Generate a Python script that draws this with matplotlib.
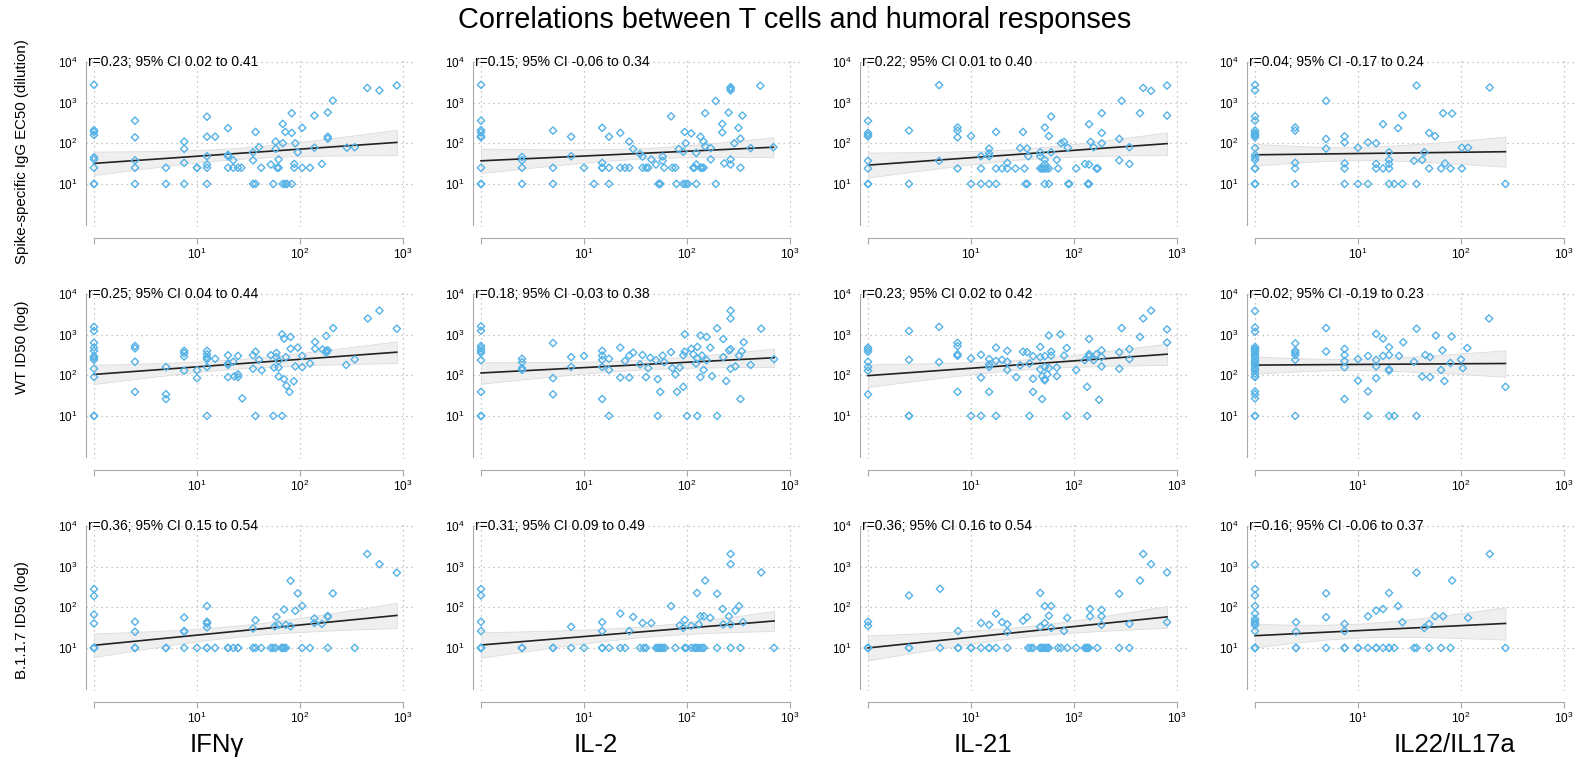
import numpy as np
import matplotlib

matplotlib.use("Agg")
import matplotlib.pyplot as plt  # noqa: E402
from matplotlib.ticker import FixedFormatter, FixedLocator, NullLocator  # noqa: E402

plt.rcParams["font.family"] = ["Liberation Sans", "DejaVu Sans"]

TITLE = "Correlations between T cells and humoral responses"
CYTOKINES = ["IFNγ", "IL-2", "IL-21", "IL22/IL17a"]
RESPONSES = ["Spike-specific IgG EC50 (dilution)", "WT ID50 (log)", "B.1.1.7 ID50 (log)"]
R_TEXT = [
    ["r=0.23; 95% CI 0.02 to 0.41", "r=0.15; 95% CI -0.06 to 0.34",
     "r=0.22; 95% CI 0.01 to 0.40", "r=0.04; 95% CI -0.17 to 0.24"],
    ["r=0.25; 95% CI 0.04 to 0.44", "r=0.18; 95% CI -0.03 to 0.38",
     "r=0.23; 95% CI 0.02 to 0.42", "r=0.02; 95% CI -0.19 to 0.23"],
    ["r=0.36; 95% CI 0.15 to 0.54", "r=0.31; 95% CI 0.09 to 0.49",
     "r=0.36; 95% CI 0.16 to 0.54", "r=0.16; 95% CI -0.06 to 0.37"],
]

# fitted titre at the lowest and highest T-cell value of each panel
FIT_START = [[32, 37, 29, 52], [105, 114, 98, 178], [11.6, 11.8, 10, 20]]
FIT_END = [[105, 80, 98, 62], [370, 270, 330, 195], [63, 46, 58, 40]]

# (T-cell response, antibody titre) pairs
ifng_igg = [(1, 2750), (1, 210), (1, 190), (1, 160), (1, 45), (1, 40), (1, 25), (1, 10), (1, 10),
            (2.5, 360), (2.5, 140), (2.5, 38), (2.5, 25), (2.5, 10), (5, 25), (5, 10),
            (7.5, 110), (7.5, 73), (7.5, 33), (7.5, 10), (10, 25), (10, 25),
            (12.5, 450), (12.5, 145), (12.5, 48), (12.5, 30), (12.5, 25), (12.5, 10), (15, 145),
            (20, 235), (20, 52), (20, 48), (20, 25), (22.5, 38), (22.5, 25), (25, 25), (27, 25),
            (35, 60), (35, 38), (35, 10), (37, 190), (37, 10), (40, 80), (42, 25),
            (52, 30), (55, 10), (58, 73), (58, 110), (60, 25), (62, 40), (62, 25),
            (68, 100), (68, 300), (68, 10), (72, 190), (72, 10), (75, 10),
            (83, 550), (83, 180), (83, 10), (88, 31), (88, 25), (90, 100), (95, 60),
            (105, 240), (105, 25), (125, 25), (138, 480), (138, 78), (163, 31),
            (186, 575), (186, 145), (186, 130), (208, 1120), (285, 78), (340, 80),
            (450, 2300), (590, 2000), (870, 2650)]
il2_igg = [(1, 2750), (1, 360), (1, 210), (1, 185), (1, 150), (1, 140), (1, 25), (1, 10), (1, 10),
           (2.5, 46), (2.5, 38), (2.5, 25), (2.5, 10), (5, 205), (5, 25), (5, 10),
           (7.5, 145), (7.5, 48), (10, 25), (12.5, 10), (15, 240), (15, 33), (15, 25), (15, 25),
           (17.5, 145), (17.5, 25), (17.5, 10), (22.5, 180), (22.5, 25), (25, 25), (27.5, 110),
           (27.5, 25), (30, 72), (35, 55), (37, 47), (37, 25), (40, 25), (42, 25), (45, 40), (50, 30),
           (53, 10), (54, 10), (55, 10), (58, 47), (58, 37), (60, 25),
           (70, 460), (72, 25), (77, 25), (79, 10), (83, 72), (92, 62), (92, 10), (95, 190),
           (97, 100), (97, 10), (102, 10), (110, 175), (115, 25), (118, 25), (123, 58), (123, 30),
           (123, 10), (135, 145), (135, 25), (140, 25), (145, 110), (145, 25), (150, 550), (150, 85),
           (170, 76), (170, 40), (190, 1100), (190, 10), (220, 300), (220, 185), (230, 32),
           (253, 570), (265, 2400), (265, 2200), (265, 2000), (265, 40), (265, 30), (288, 100),
           (316, 240), (330, 130), (330, 25), (345, 480), (415, 76), (515, 2600), (690, 80)]
il21_igg = [(1, 355), (1, 180), (1, 160), (1, 148), (1, 37), (1, 24), (1, 10), (1, 10),
            (2.5, 205), (2.5, 10), (4.9, 2700), (4.9, 37),
            (7.4, 245), (7.4, 205), (7.4, 140), (7.4, 24), (10, 150), (10, 10),
            (12.5, 48), (12.5, 24), (12.5, 10), (15, 74), (15, 57), (15, 48), (15, 10),
            (17.5, 190), (17.5, 24), (17.5, 10), (20, 24), (22.5, 33), (22.5, 24), (27, 24),
            (30, 76), (32, 190), (35, 74), (33, 24), (34, 10), (35, 10), (36, 48),
            (47, 60), (47, 48), (47, 24), (49, 24), (50, 24), (52, 245), (52, 39), (52, 31),
            (52, 24), (52, 10), (54, 24), (57, 150), (57, 24), (57, 10), (60, 455), (60, 60),
            (68, 39), (70, 24), (75, 100), (80, 108), (87, 78), (88, 10), (90, 10),
            (105, 24), (128, 31), (136, 10), (138, 10), (140, 10), (140, 295), (140, 30), (145, 108),
            (155, 80), (165, 24), (170, 24), (186, 550), (186, 180), (186, 100),
            (275, 128), (275, 38), (290, 1110), (345, 80), (345, 31), (437, 550), (470, 2300),
            (560, 1950), (800, 2640), (800, 480)]
il22_igg = [(1, 2750), (1, 2000), (1, 460), (1, 360), (1, 205), (1, 180), (1, 165), (1, 155),
            (1, 140), (1, 76), (1, 52), (1, 45), (1, 39), (1, 24), (1, 24), (1, 10), (1, 10), (1, 10),
            (2.45, 245), (2.45, 205), (2.45, 33), (2.45, 24), (2.45, 10),
            (4.9, 1110), (4.9, 128), (4.9, 74), (7.4, 148), (7.4, 105), (7.4, 32), (7.4, 24), (7.4, 10),
            (10, 78), (10, 10), (12.5, 105), (12.5, 10), (15, 100), (15, 31), (15, 24),
            (17.5, 295), (17.5, 24), (20, 60), (20, 39), (20, 31), (20, 24), (20, 10), (22.5, 10),
            (24.5, 235), (27, 480), (27, 10), (35, 37), (37, 2640), (37, 10), (42, 39), (44, 60),
            (49, 180), (49, 24), (56, 150), (64, 24), (67, 550), (70, 32), (79, 24), (82, 540),
            (102, 78), (102, 24), (117, 78), (190, 2350), (270, 10)]

ifng_wt = [(1, 1550), (1, 1230), (1, 630), (1, 480), (1, 400), (1, 295), (1, 270), (1, 240),
           (1, 145), (1, 91), (1, 10), (1, 10), (2.5, 525), (2.5, 460), (2.5, 215), (2.5, 39),
           (5, 160), (5, 34), (5, 26), (7.5, 400), (7.5, 350), (7.5, 290), (7.5, 130),
           (10, 133), (10, 85), (12.5, 400), (12.5, 330), (12.5, 280), (12.5, 250), (12.5, 160),
           (12.5, 10), (15, 255), (20, 310), (20, 195), (20, 180), (20, 90), (22.5, 215), (23, 94),
           (25, 300), (25, 105), (25, 90), (27.5, 27), (35, 310), (35, 145), (37, 380), (37, 10),
           (40, 240), (42.5, 133), (52, 310), (55, 10), (56, 155), (59, 355), (59, 280), (62, 225),
           (62, 155), (62, 94), (67, 1020), (67, 10), (70, 800), (70, 80), (73, 280), (74, 55),
           (79, 39), (81, 880), (81, 450), (87, 71), (90, 165), (95, 480),
           (105, 300), (105, 158), (125, 195), (140, 660), (140, 450), (166, 430), (180, 930),
           (180, 400), (180, 360), (186, 410), (210, 1450), (280, 180), (340, 245), (455, 2500),
           (590, 3900), (870, 1400)]
il2_wt = [(1, 1600), (1, 1250), (1, 525), (1, 460), (1, 400), (1, 355), (1, 235), (1, 39), (1, 10),
          (1, 10), (2.5, 255), (2.5, 210), (2.5, 150), (2.5, 135), (5, 620), (5, 85), (5, 34),
          (7.5, 280), (7.5, 160), (10, 300), (15, 400), (15, 305), (15, 240), (15, 160), (15, 26),
          (17.5, 255), (17.5, 135), (17.5, 10), (22.5, 480), (22.5, 88), (25, 225), (27.5, 305),
          (27.5, 88), (30, 360), (35, 185), (37, 315), (40, 90), (42, 150), (44, 270),
          (50, 235), (52, 80), (52, 10), (55, 39), (58, 305), (60, 210), (70, 370), (72, 150),
          (77, 105), (80, 39), (85, 155), (92, 310), (92, 52), (95, 1020), (95, 380), (100, 10),
          (110, 450), (115, 330), (122, 195), (126, 500), (126, 260), (126, 10), (135, 950),
          (135, 90), (140, 305), (145, 135), (155, 880), (155, 235), (168, 480), (175, 95),
          (196, 1430), (196, 10), (225, 780), (225, 280), (240, 72), (256, 410), (265, 3900),
          (265, 2500), (265, 440), (265, 145), (295, 165), (320, 305), (330, 26), (340, 390),
          (355, 650), (415, 180), (525, 1400), (700, 250)]
il21_wt = [(1, 480), (1, 430), (1, 380), (1, 215), (1, 160), (1, 130), (1, 34),
           (2.5, 1230), (2.5, 240), (2.5, 10), (2.5, 10), (4.9, 1550), (4.9, 210),
           (7.4, 630), (7.4, 520), (7.4, 330), (7.4, 300), (7.4, 39), (10, 260), (10, 10),
           (12.5, 320), (12.5, 88), (12.5, 10), (15, 250), (15, 185), (15, 160), (15, 39),
           (17.5, 480), (17.5, 225), (17.5, 10), (20, 240), (22.5, 400), (22.5, 215), (22.5, 135),
           (27.5, 90), (30, 175), (32, 380), (35, 370), (37, 195), (37, 10), (40, 295), (40, 82),
           (40, 39), (47, 500), (47, 280), (47, 140), (49, 95), (49, 26), (52, 295), (52, 160),
           (52, 80), (52, 75), (55, 105), (57, 950), (57, 150), (60, 380), (60, 305), (68, 155),
           (68, 95), (74, 1020), (80, 305), (85, 470), (85, 10),
           (105, 135), (127, 235), (134, 52), (134, 10), (140, 780), (140, 330), (140, 295),
           (155, 235), (165, 330), (175, 25), (185, 410), (185, 280), (185, 165),
           (275, 370), (275, 145), (290, 1450), (345, 440), (345, 250), (437, 880), (470, 2500),
           (560, 3900), (800, 1350), (800, 640)]
il22_wt = [(1, 3800), (1, 1500), (1, 1180), (1, 500), (1, 450), (1, 420), (1, 380), (1, 330),
           (1, 300), (1, 260), (1, 230), (1, 205), (1, 185), (1, 165), (1, 145), (1, 130), (1, 110),
           (1, 93), (1, 90), (1, 40), (1, 34), (1, 27), (1, 10), (1, 10),
           (2.46, 610), (2.46, 400), (2.46, 360), (2.46, 315), (2.46, 240), (2.46, 10),
           (4.9, 1450), (4.9, 385), (7.4, 445), (7.4, 315), (7.4, 225), (7.4, 158), (7.4, 26),
           (10, 250), (10, 74), (12.5, 300), (12.5, 40), (12.5, 10),
           (15, 1040), (15, 240), (15, 165), (15, 85), (17.5, 800), (17.5, 300),
           (20, 490), (20, 315), (20, 140), (20, 130), (20, 10), (22.5, 10), (25, 300), (27.5, 650),
           (35, 215), (37, 1400), (37, 10), (42, 93), (45, 315), (50, 280), (50, 90), (57, 950),
           (64, 135), (66, 410), (69, 72), (79, 200), (81, 900),
           (100, 245), (104, 150), (115, 470), (187, 2500), (270, 52)]

ifng_b117 = [(1, 280), (1, 190), (1, 66), (1, 40), (1, 10), (1, 10), (1, 10),
             (2.5, 44), (2.5, 25), (2.5, 10), (2.5, 10), (5, 10), (5, 10),
             (7.5, 56), (7.5, 26), (7.5, 25), (7.5, 10), (10, 10),
             (12.5, 107), (12.5, 44), (12.5, 40), (12.5, 32), (12.5, 10), (12.5, 10),
             (15, 10), (20, 10), (20, 10), (22.5, 10), (25, 10), (25, 10),
             (35, 30), (35, 10), (37, 48), (37, 10), (42, 10),
             (52, 10), (55, 10), (57, 34), (58, 10), (59, 58), (62, 37), (66, 10), (68, 10),
             (70, 88), (70, 10), (73, 37), (73, 10), (81, 450), (81, 34), (90, 82), (95, 220),
             (105, 108), (105, 10), (125, 10), (138, 53), (138, 41), (163, 39), (186, 61),
             (186, 58), (186, 10), (208, 220), (340, 10), (450, 2050), (590, 1150), (870, 710)]
il2_b117 = [(1, 280), (1, 195), (1, 44), (1, 26), (1, 10), (1, 10), (1, 10),
            (2.5, 10), (2.5, 10), (5, 10), (5, 10), (7.5, 33), (7.5, 10), (10, 10),
            (15, 43), (15, 26), (15, 10), (15, 10), (17.5, 10),
            (22.5, 70), (22.5, 10), (25, 10), (27.5, 26), (30, 58), (35, 10), (37, 41), (38, 10),
            (40, 10), (45, 41), (50, 10), (52, 10), (54, 10), (56, 10), (58, 10), (61, 10),
            (70, 107), (77, 10), (85, 36), (92, 31), (95, 49), (95, 10), (98, 10),
            (110, 35), (110, 10), (118, 10), (122, 10), (125, 225), (127, 10), (130, 38), (133, 10),
            (135, 60), (140, 10), (146, 60), (146, 10), (150, 455), (168, 55), (196, 215), (196, 10),
            (222, 91), (225, 38), (255, 60), (265, 2050), (265, 1150), (265, 38), (265, 10),
            (295, 83), (320, 107), (330, 10), (350, 43), (525, 720), (700, 10)]
il21_b117 = [(1, 44), (1, 35), (1, 10), (1, 10), (1, 10), (2.5, 195), (2.5, 10), (2.5, 10),
             (5, 285), (5, 10), (7.5, 26), (7.5, 10), (7.5, 10), (10, 10), (10, 10),
             (12.5, 41), (12.5, 10), (15, 37), (15, 10), (15, 10), (17.5, 70), (17.5, 10),
             (20, 43), (22.5, 38), (22.5, 25), (22.5, 10), (32, 47), (35, 57), (36, 10), (38, 10),
             (40, 10), (47, 225), (47, 33), (47, 10), (47, 10), (49, 10), (51, 10), (52, 41),
             (52, 107), (53, 10), (55, 10), (57, 62), (57, 10), (60, 107), (60, 31),
             (70, 10), (75, 10), (80, 26), (86, 55), (86, 10),
             (105, 10), (127, 10), (132, 10), (136, 10), (140, 10), (143, 91), (143, 60), (168, 10),
             (185, 86), (185, 60), (185, 37), (275, 215), (275, 10), (345, 39), (345, 10),
             (437, 455), (470, 2050), (560, 1150), (800, 720), (800, 43)]
il22_b117 = [(1, 1120), (1, 280), (1, 195), (1, 107), (1, 70), (1, 52), (1, 45), (1, 40), (1, 36),
             (1, 26), (1, 10), (1, 10), (1, 10), (2.5, 43), (2.5, 25), (2.5, 10), (2.5, 10),
             (4.9, 220), (4.9, 57), (4.9, 10), (7.4, 39), (7.4, 26), (7.4, 10), (7.4, 10),
             (10, 10), (10, 10), (12.5, 60), (12.5, 10), (15, 83), (15, 10), (15, 10),
             (17.5, 91), (17.5, 10), (20, 225), (20, 10), (20, 10), (22.5, 10), (24.5, 107),
             (27, 43), (35, 10), (37, 710), (37, 10), (44, 31), (49, 39), (49, 10), (56, 60),
             (64, 10), (67, 60), (79, 10), (82, 455), (117, 55), (190, 2050), (270, 10)]

PANELS = [
    [ifng_igg, il2_igg, il21_igg, il22_igg],
    [ifng_wt, il2_wt, il21_wt, il22_wt],
    [ifng_b117, il2_b117, il21_b117, il22_b117],
]

POINT_COLOR = "#55b2e6"
W, H = 1574, 767


def fit_band(x, y, y_start, y_end):
    """Regression line through the read-off end values, 95% band from the residuals."""
    lx, ly = np.log10(x), np.log10(y)
    x0, x1 = lx.min(), lx.max()
    slope = (np.log10(y_end) - np.log10(y_start)) / (x1 - x0)
    icpt = np.log10(y_start) - slope * x0
    n = len(lx)
    resid = ly - (icpt + slope * lx)
    s = np.sqrt(np.sum(resid ** 2) / (n - 2))
    grid = np.linspace(x0, x1, 100)
    pred = icpt + slope * grid
    se = s * np.sqrt(1 / n + (grid - lx.mean()) ** 2 / np.sum((lx - lx.mean()) ** 2))
    return 10 ** grid, 10 ** pred, 10 ** (pred - 1.99 * se), 10 ** (pred + 1.99 * se)


fig = plt.figure(figsize=(W / 100, H / 100), dpi=100)

for r in range(3):
    for c in range(4):
        left = (86 + 387 * c) / W
        bottom = 1 - (227 + 232 * r) / H
        ax = fig.add_axes([left, bottom, 327 / W, 167 / H])
        pts = np.array(PANELS[r][c], dtype=float)
        x, y = pts[:, 0], pts[:, 1]

        ax.set_xscale("log")
        ax.set_yscale("log")
        ax.set_xlim(0.836, 1250)
        ax.set_ylim(0.87, 1.12e4)

        gx, gy, lo, hi = fit_band(x, y, FIT_START[r][c], FIT_END[r][c])
        ax.fill_between(gx, lo, hi, color="#efefef", edgecolor="#dcdcdc", lw=0.6, zorder=2)
        ax.plot(gx, gy, color="#222222", lw=1.2, zorder=3)
        ax.scatter(x, y, marker="D", s=14, facecolors="none", edgecolors=POINT_COLOR,
                   linewidths=1.0, zorder=4)

        ax.xaxis.set_major_locator(FixedLocator([1, 10, 100, 1000]))
        ax.xaxis.set_major_formatter(FixedFormatter(
            ["", r"$\mathdefault{10^{1}}$", r"$\mathdefault{10^{2}}$", r"$\mathdefault{10^{3}}$"]))
        ax.yaxis.set_major_locator(FixedLocator([10, 100, 1000, 10000]))
        ax.yaxis.set_major_formatter(FixedFormatter(
            [r"$\mathdefault{10^{1}}$", r"$\mathdefault{10^{2}}$",
             r"$\mathdefault{10^{3}}$", r"$\mathdefault{10^{4}}$"]))
        ax.xaxis.set_minor_locator(NullLocator())
        ax.yaxis.set_minor_locator(NullLocator())
        ax.tick_params(axis="x", length=4, width=0.8, color="#aaaaaa", labelsize=8.5, pad=2)
        ax.tick_params(axis="y", length=0, labelsize=8.5, pad=6)
        ax.grid(True, ls=(0, (1, 3)), color="#b5b5b5", lw=0.9)
        ax.set_axisbelow(True)

        for side in ("top", "right"):
            ax.spines[side].set_visible(False)
        ax.spines["left"].set_bounds(1, 1e4)
        ax.spines["left"].set_color("#aaaaaa")
        ax.spines["bottom"].set_bounds(1, 1e3)
        ax.spines["bottom"].set_color("#aaaaaa")
        ax.spines["bottom"].set_position(("outward", 8))

        ax.text(0.006, 1e4, R_TEXT[r][c], transform=ax.get_yaxis_transform(),
                ha="left", va="center", fontsize=10, zorder=5)

fig.text(0.505, 1 - 20 / H, TITLE, ha="center", va="center", fontsize=20.8)

for name, xc in zip(CYTOKINES, [217, 596, 983, 1455]):
    fig.text(xc / W, 1 - 745 / H, name, ha="center", va="center", fontsize=18.5)

for name, yc in zip(RESPONSES, [152, 347, 620]):
    fig.text(22 / W, 1 - yc / H, name, ha="center", va="center", rotation=90, fontsize=10.8)

fig.savefig("out.png", dpi=100)
